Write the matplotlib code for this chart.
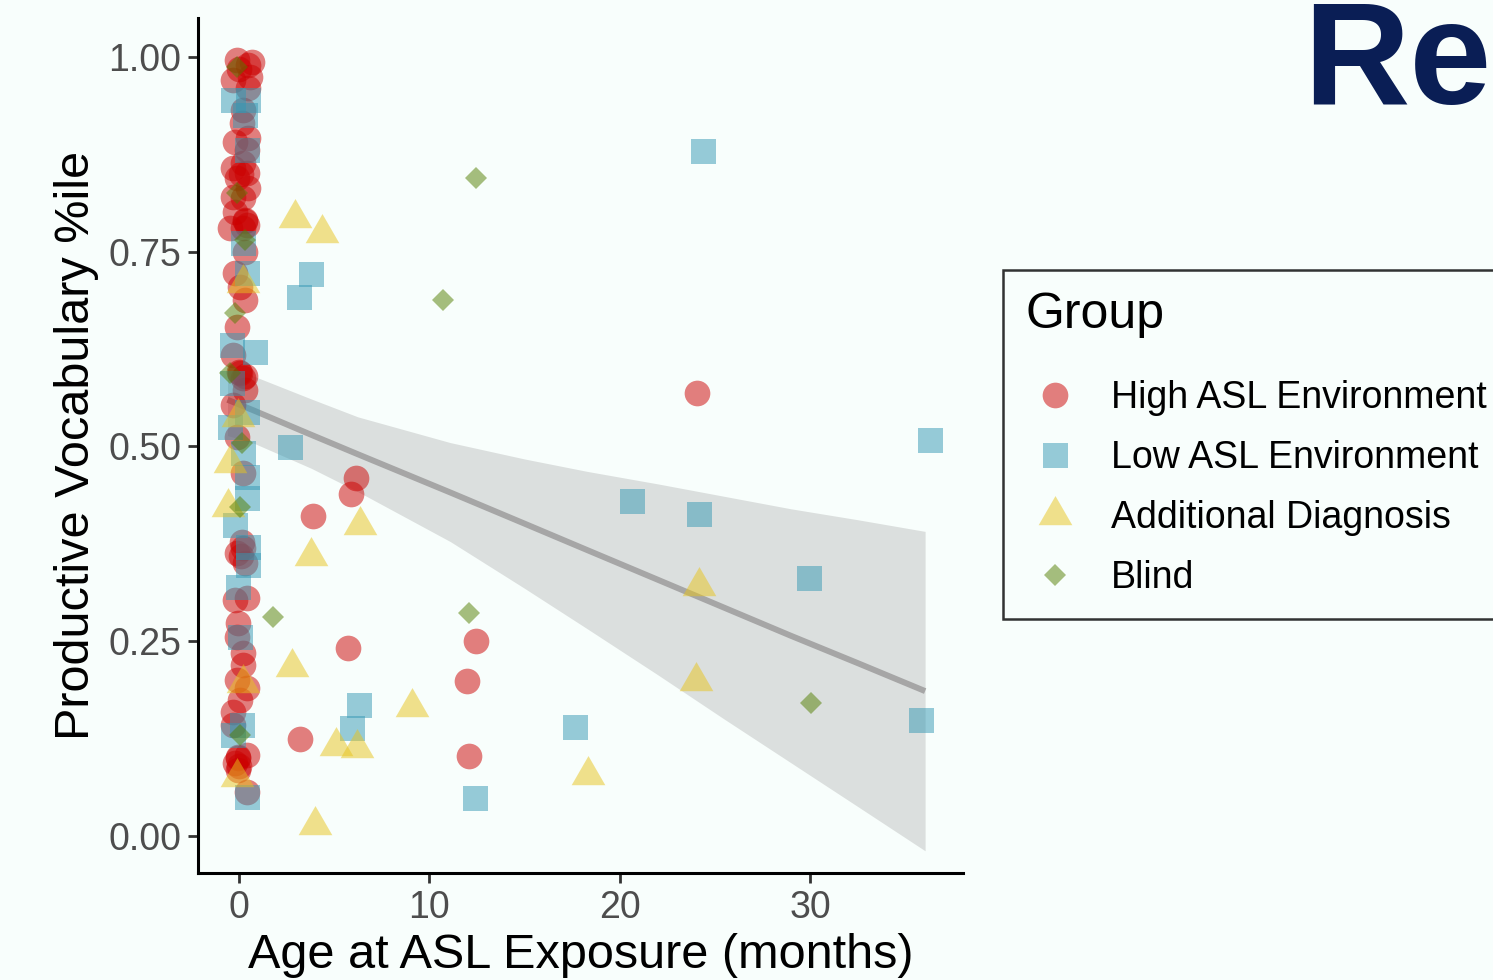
import matplotlib
matplotlib.use("Agg")
import matplotlib.pyplot as plt
from matplotlib.lines import Line2D

plt.rcParams['font.family'] = ['Liberation Sans', 'DejaVu Sans']

# --- data ---
high_x = [-0.11, 0.68, 0.47, -0.32, 0.58, 0.21, 0.16, -0.21, 0.47, 0.42, -0.32, 0.21, 0.42,
          0.47, -0.32, 0.21, -0.21, 0.32, 0.42, -0.47, 0.32, -0.21, 0.05, 0.32, -0.11, -0.32,
          0.05, 0.21, 0.32, -0.32, -0.11, 0.21, 0.16, -0.11, 0.32, -0.21, 0.42, -0.05, -0.11,
          0.21, 0.21, -0.11, 0.42, 0.05, -0.32, -0.32, -0.05, 0.42, -0.21, -0.05, 0.42,
          0.0, 0.5, 0.1, -0.1, 0.3, 0.2, 0.0, 0.3, 0.1, -0.05, 0.0, 0.2,
          24.07, 6.15, 5.89, 3.89, 12.45, 5.73, 11.98, 3.2, 12.09]
high_y = [0.996, 0.994, 0.990, 0.970, 0.974, 0.932, 0.915, 0.891, 0.896, 0.881, 0.858, 0.864, 0.851,
          0.832, 0.820, 0.819, 0.801, 0.791, 0.784, 0.780, 0.750, 0.723, 0.705, 0.688, 0.653, 0.617,
          0.594, 0.588, 0.573, 0.553, 0.512, 0.466, 0.377, 0.363, 0.350, 0.303, 0.306, 0.273, 0.255,
          0.235, 0.220, 0.200, 0.190, 0.175, 0.159, 0.142, 0.101, 0.104, 0.094, 0.085, 0.056,
          0.985, 0.960, 0.850, 0.845, 0.790, 0.780, 0.595, 0.590, 0.360, 0.100, 0.090, 0.370,
          0.569, 0.460, 0.439, 0.411, 0.250, 0.241, 0.199, 0.125, 0.103]

low_x = [-0.32, 0.47, 0.32, 0.42, 0.21, 0.42, -0.37, 0.84, -0.37, 0.42, -0.47, 0.21, 0.42,
         0.42, -0.21, 0.47, 0.47, -0.05, 0.05, 0.16, -0.32, 0.42,
         24.38, 3.78, 3.15, 2.68, 20.65, 24.17, 29.95, 36.31, 35.84, 17.66, 6.31, 5.94, 12.4]
low_y = [0.945, 0.945, 0.926, 0.881, 0.761, 0.723, 0.630, 0.621, 0.582, 0.544, 0.525, 0.492, 0.461,
         0.434, 0.399, 0.371, 0.348, 0.320, 0.255, 0.142, 0.130, 0.050,
         0.879, 0.721, 0.692, 0.499, 0.430, 0.413, 0.331, 0.508, 0.149, 0.140, 0.168, 0.139, 0.049]

diag_x = [0.21, -0.05, -0.47, -0.58, 0.21, -0.11,
          2.94, 4.36, 6.36, 3.78, 24.17, 2.79, 9.09, 5.1, 6.2, 24.0, 18.34, 3.99]
diag_y = [0.710, 0.538, 0.479, 0.422, 0.196, 0.076,
          0.793, 0.774, 0.399, 0.359, 0.321, 0.217, 0.166, 0.116, 0.113, 0.199, 0.078, 0.014]

blind_x = [-0.11, -0.11, 0.32, -0.21, -0.47, 0.16, 0.05, 0.05,
           12.45, 10.72, 1.79, 12.09, 30.06]
blind_y = [0.987, 0.825, 0.765, 0.671, 0.594, 0.504, 0.422, 0.130,
           0.845, 0.688, 0.281, 0.286, 0.171]

# linear fit with 95% band
fit_x = [-0.6, 0.8, 3.8, 6.25, 11.1, 15, 18.3, 22, 25.5, 29, 32.5, 36.05]
fit_y = [0.560, 0.546, 0.515, 0.490, 0.441, 0.401, 0.367, 0.329, 0.293, 0.257, 0.222, 0.186]
fit_hi = [0.606, 0.590, 0.561, 0.538, 0.505, 0.484, 0.468, 0.452, 0.436, 0.420, 0.406, 0.391]
fit_lo = [0.514, 0.504, 0.472, 0.442, 0.378, 0.318, 0.266, 0.207, 0.150, 0.094, 0.038, -0.019]

groups = ["High ASL Environment", "Low ASL Environment", "Additional Diagnosis", "Blind"]
xticks = [0, 10, 20, 30]
yticks = [0.00, 0.25, 0.50, 0.75, 1.00]

bg = '#F8FEFC'
colors = ['#CC0000', '#3498B4', '#E8C41C', '#527E00']
tri = [(-1, -0.577), (1, -0.577), (0, 1.155)]
markers = ['o', 's', tri, 'D']
msizes = [18.5, 18, 28, 11.7]

fig = plt.figure(figsize=(14.93, 9.8), dpi=100, facecolor=bg)
ax = fig.add_axes([198/1493, 107/980, 765/1493, 855/980])
ax.set_facecolor(bg)

ax.fill_between(fit_x, fit_lo, fit_hi, color='#999999', alpha=0.3, lw=0)
ax.plot(fit_x, fit_y, color='#A6A6A6', lw=4.3, solid_capstyle='butt')

data = [(high_x, high_y), (low_x, low_y), (diag_x, diag_y), (blind_x, blind_y)]
handles = []
for (xs, ys), c, m, ms, lab in zip(data, colors, markers, msizes, groups):
    ax.plot(xs, ys, ls='none', marker=m, ms=ms, color=c, alpha=0.5, mew=0)
    handles.append(Line2D([], [], ls='none', marker=m, ms=ms, color=c, alpha=0.5, mew=0))

ax.set_xlim(-2.15, 38.04)
ax.set_ylim(-0.0475, 1.05)
ax.set_xticks(xticks)
ax.set_yticks(yticks)
ax.set_yticklabels(['%.2f' % v for v in yticks])
for s in ['top', 'right']:
    ax.spines[s].set_visible(False)
for s in ['left', 'bottom']:
    ax.spines[s].set_linewidth(2.2)
ax.tick_params(length=7, width=2, color='#333333', labelcolor='#4D4D4D', labelsize=27, pad=5)

ax.set_xlabel("Age at ASL Exposure (months)", fontsize=35, labelpad=5)
ax.set_ylabel("Productive Vocabulary %ile", fontsize=35, labelpad=7)

leg = ax.legend(handles, groups, title="Group", loc='upper left',
                bbox_to_anchor=(1003/1493, 1 - 270/980), bbox_transform=fig.transFigure,
                borderaxespad=0, fontsize=27, title_fontsize=36, frameon=True, fancybox=False,
                handlelength=1.55, handletextpad=0.72, labelspacing=0.64, borderpad=0.6,
                alignment='left')
leg._legend_box.sep = 30
leg.get_frame().set_edgecolor('black')
leg.get_frame().set_linewidth(1.8)
leg.get_frame().set_facecolor(bg)

fig.text(1303/1493, 1 - 104/980, "Re", fontsize=106, fontweight='bold', color='#0A1E55',
         va='baseline', ha='left')

fig.savefig("out.png", dpi=100, facecolor=bg)
